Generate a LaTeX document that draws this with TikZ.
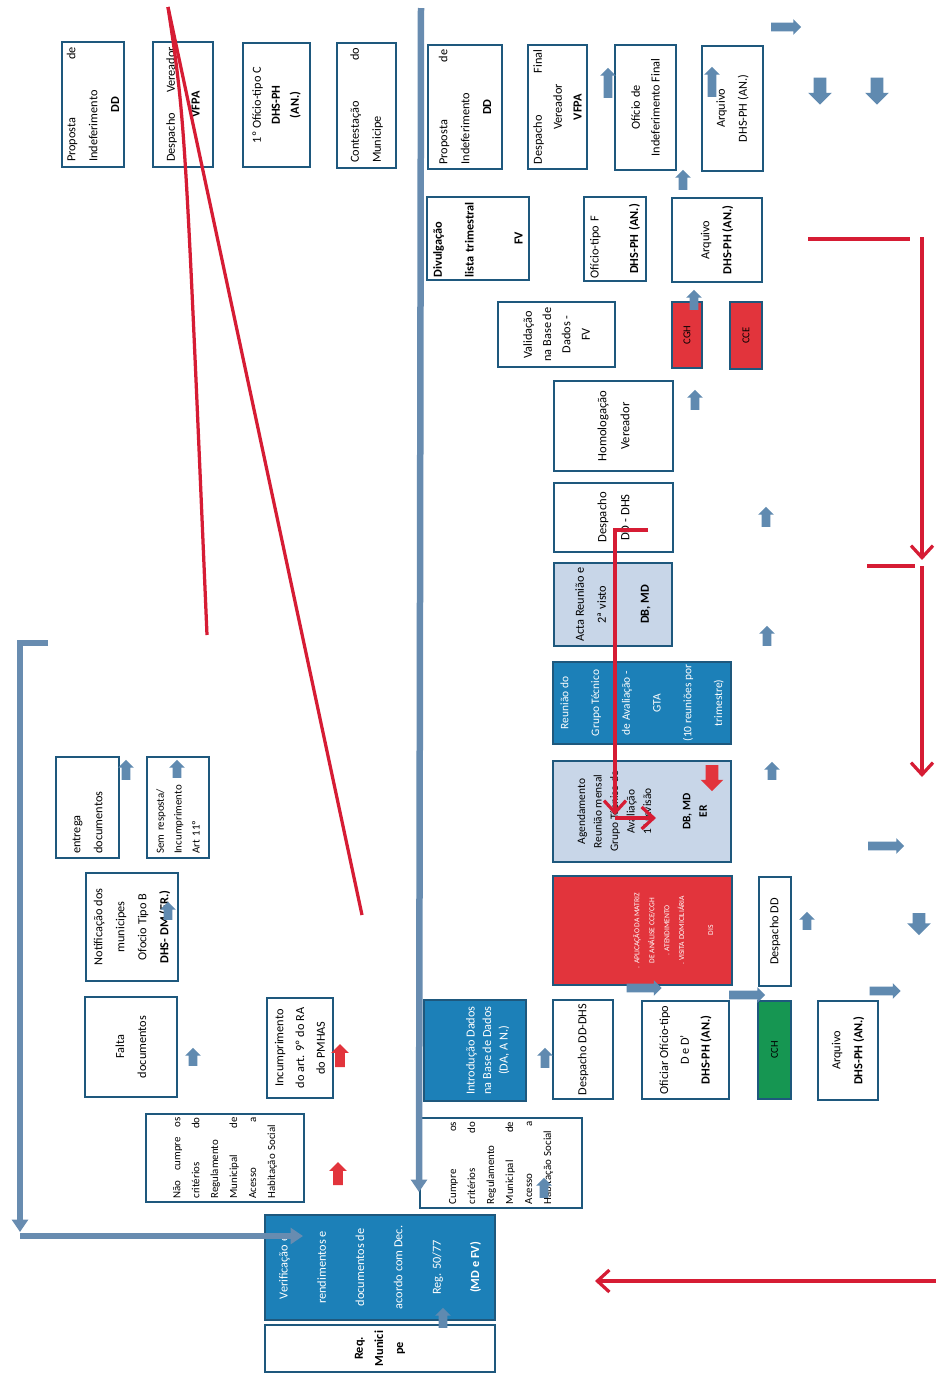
\documentclass[tikz,border=0pt]{standalone}
\usepackage{fontspec}
\setmainfont{Carlito}
\usetikzlibrary{arrows.meta,shapes.arrows}
\definecolor{frameblue}{RGB}{30,88,125}
\definecolor{arrowblue}{RGB}{96,138,176}
\definecolor{trunkblue}{RGB}{104,140,176}
\definecolor{redline}{RGB}{214,28,52}
\definecolor{boxred}{RGB}{226,52,60}
\definecolor{midblue}{RGB}{28,128,184}
\definecolor{paleblue}{RGB}{200,214,232}
\definecolor{cchgreen}{RGB}{22,150,82}
\newcommand{\jl}[2]{#1\hfill#2}

\begin{document}
\begin{tikzpicture}[x=0.02cm,y=-0.02cm,
  box/.style={draw=frameblue,line width=0.05cm,rotate=90,inner sep=1.5pt,align=center,
    font=\fontsize{7}{12.5}\selectfont},
  pale/.style={box,fill=paleblue},
  dark/.style={box,fill=midblue,text=white},
  hot/.style={box,fill=boxred},
  barr/.style={single arrow,fill=arrowblue,inner xsep=0pt,inner ysep=0.08cm,
    single arrow head extend=0.07cm,minimum height=0.6cm,minimum width=0pt},
  bigarr/.style={barr,inner ysep=0.12cm,single arrow head extend=0.11cm,minimum height=0.54cm},
  rarr/.style={barr,fill=boxred,inner ysep=0.09cm,single arrow head extend=0.08cm,minimum height=0.46cm},
  trunk/.style={draw=trunkblue,line width=0.13cm,-{Triangle[length=0.25cm,width=0.32cm]}},
  redrule/.style={draw=redline,line width=0.065cm},
  redarr/.style={redrule,-{Straight Barb[length=0.24cm,width=0.44cm]}}]
\useasboundingbox (0,0) rectangle (936,1373);
\fill[white] (0,0) rectangle (936,1373);

%LEFT TOP
\node[box,minimum width=2.5cm,minimum height=1.24cm,text width=2.3cm] (propa) at (93,104.5)
  {\jl{Proposta}{de}\\ \jl{Indeferimento}{\mbox{}}\\ \textbf{DD}};
\node[box,minimum width=2.5cm,minimum height=1.2cm,text width=2.3cm,font=\fontsize{7}{14}\selectfont] (despa) at (183,104.5)
  {\jl{Despacho}{Vereador}\\ \textbf{VFPA}};
\node[box,minimum width=2.48cm,minimum height=1.34cm,font=\fontsize{7}{10.8}\selectfont] (oficc) at (276.5,105)
  {1º Ofício-tipo C\\ \textbf{DHS-PH}\\ \textbf{(AN.)}};
\node[box,minimum width=2.5cm,minimum height=1.18cm,text width=2.3cm] (contest) at (366.5,105.5)
  {\jl{Contestação}{do}\\ \jl{Municipe}{\mbox{}}};

%RIGHT TOP
\node[box,minimum width=2.48cm,minimum height=1.48cm,text width=2.3cm] (propb) at (465,107)
  {\jl{Proposta}{de}\\ \jl{Indeferimento}{\mbox{}}\\ \textbf{DD}};
\node[box,minimum width=2.48cm,minimum height=1.18cm,text width=2.3cm,font=\fontsize{7}{11.3}\selectfont] (despf) at (557.5,107)
  {\jl{Despacho}{Final}\\ Vereador\\ \textbf{VFPA}};
\node[box,minimum width=2.5cm,minimum height=1.22cm,font=\fontsize{7}{11.3}\selectfont] (oficif) at (645.5,107.5)
  {Ofício de\\ Indeferimento Final};
\node[box,minimum width=2.5cm,minimum height=1.22cm] (arqa) at (732.5,108.5)
  {Arquivo\\ DHS-PH (AN.)};
\node[box,minimum width=1.66cm,minimum height=2.04cm,text width=1.56cm,font=\fontsize{7}{18}\selectfont] (divulg) at (478,238.5)
  {\jl{\textbf{Divulgação}}{\mbox{}}\\ \jl{\textbf{lista trimestral}}{\mbox{}}\\[10pt] \textbf{FV}};
\node[box,minimum width=1.68cm,minimum height=1.24cm,text width=1.58cm] (oficf) at (615,239)
  {\jl{Ofício-tipo F}{\mbox{}}\\[10pt] \textbf{DHS-PH (AN.)}};
\node[box,minimum width=1.68cm,minimum height=1.8cm] (arqb) at (717,240)
  {Arquivo\\ \textbf{DHS-PH (AN.)}};
\node[box,minimum width=1.3cm,minimum height=2.34cm,font=\fontsize{7}{11}\selectfont] (valid) at (556.5,334.5)
  {Validação\\ na Base de\\ Dados -\\ FV};
\node[hot,minimum width=1.32cm,minimum height=0.6cm,font=\fontsize{6}{7}\selectfont] (cgh) at (687,335) {CGH};
\node[hot,minimum width=1.34cm,minimum height=0.64cm,font=\fontsize{6}{7}\selectfont] (cce) at (746,335.5) {CCE};
\node[box,minimum width=1.8cm,minimum height=2.38cm,font=\fontsize{7.2}{13}\selectfont] (homol) at (613.5,426)
  {Homologação\\ Vereador};
\node[box,minimum width=1.38cm,minimum height=2.38cm,font=\fontsize{7.2}{13}\selectfont] (despdhs) at (613.5,517.5)
  {Despacho\\ DD - DHS};
\node[pale,minimum width=1.66cm,minimum height=2.36cm] (acta) at (613,604.5)
  {Acta Reunião e\\ 2ª visto\\[12pt] \textbf{DB, MD}};
\node[dark,minimum width=1.6cm,minimum height=3.56cm,font=\fontsize{6.5}{17.5}\selectfont] (gta) at (642,703)
  {Reunião do\\ Grupo Técnico\\ de Avaliação -\\ GTA\\ (10 reuniões por\\ trimestre)};
\node[pale,minimum width=2.02cm,minimum height=3.56cm,font=\fontsize{6.5}{9.4}\selectfont] (agend) at (642,811.5)
  {Agendamento\\ Reunião mensal\\ Grupo Técnico de\\ Avaliação\\ 1ª revisão\\[13pt] \textbf{DB, MD}\\ \textbf{ER}};
\node[hot,text=white,minimum width=2.18cm,minimum height=3.58cm,font=\fontsize{4.3}{8.5}\selectfont] (aplic) at (642.5,930.5)
  {\mbox{}\\[30pt] . APLICAÇÃO DA MATRIZ\\ DE ANÁLISE CCE/CGH\\ . ATENDIMENTO\\ . VISITA DOMICILIÁRIA\\[8pt] DIS};
\node[box,minimum width=2.18cm,minimum height=0.64cm] (despdd) at (775,931.5) {Despacho DD};

%BOTTOM ROW
\node[dark,minimum width=2.02cm,minimum height=2.04cm,font=\fontsize{7}{9.4}\selectfont] (intro) at (475,1050.5)
  {\mbox{}\\[10pt] Introdução Dados\\ na Base de Dados\\ (DA, A N.)};
\node[box,minimum width=1.98cm,minimum height=1.2cm] (despdddhs) at (583,1049.5) {Despacho DD-DHS};
\node[box,minimum width=1.96cm,minimum height=1.74cm,font=\fontsize{7}{11.8}\selectfont] (oficd) at (685.5,1050)
  {Oficiar Ofício-tipo\\ D e D'\\ \textbf{DHS-PH (AN.)}};
\node[box,fill=cchgreen,minimum width=1.96cm,minimum height=0.66cm,font=\fontsize{6}{7}\selectfont] (cch) at (774.5,1050) {CCH};
\node[box,minimum width=1.98cm,minimum height=1.2cm] (arqc) at (848,1050.5)
  {Arquivo\\ \textbf{DHS-PH (AN.)}};
\node[box,minimum width=1.8cm,minimum height=3.24cm,text width=1.65cm,font=\fontsize{6.2}{10.8}\selectfont] (cumpre) at (501,1163)
  {\jl{Cumpre}{os}\\ \jl{critérios}{do}\\ \jl{Regulamento}{\mbox{}}\\ \jl{Municipal}{de}\\ \jl{Acesso}{a}\\ \jl{Habitação Social}{\mbox{}}};

%LEFT BOTTOM
\node[box,minimum width=2.02cm,minimum height=1.26cm,text width=1.85cm] (entrega) at (87.5,807.5)
  {\jl{entrega}{\mbox{}}\\ \jl{documentos}{\mbox{}}};
\node[box,minimum width=2.02cm,minimum height=1.24cm,text width=1.85cm,font=\fontsize{6.2}{10.2}\selectfont] (semresp) at (178,807.5)
  {\jl{Sem resposta/}{\mbox{}}\\ \jl{Incumprimento}{\mbox{}}\\ \jl{Art 11º}{\mbox{}}};
\node[box,minimum width=2.16cm,minimum height=1.84cm] (notif) at (132,927)
  {Notificação dos\\ municipes\\ Ofocio Tipo B\\ \textbf{DHS- DM (ER.)}};
\node[box,minimum width=2cm,minimum height=1.84cm] (falta) at (131,1047) {Falta\\ documentos};
\node[box,minimum width=2cm,minimum height=1.32cm,font=\fontsize{7}{11.8}\selectfont] (incump) at (300,1048)
  {Incumprimento\\ do art. 9º do RA\\ do PMHAS};
\node[box,minimum width=1.76cm,minimum height=3.16cm,text width=1.62cm,font=\fontsize{6.2}{10.8}\selectfont] (naocumpre) at (225,1158)
  {Não\hfill cumpre\hfill os\\ \jl{critérios}{do}\\ \jl{Regulamento}{\mbox{}}\\ \jl{Municipal}{de}\\ \jl{Acesso}{a}\\ \jl{Habitação Social}{\mbox{}}};
\node[dark,minimum width=2.1cm,minimum height=4.6cm,font=\fontsize{7}{21.8}\selectfont] (verif) at (380,1267.5)
  {Verificação e\\ rendimentos e\\ documentos de\\ acordo com Dec.\\ Reg. 50/77\\ \textbf{(MD e FV)}};
\node[box,minimum width=0.94cm,minimum height=4.6cm,font=\fontsize{7}{11.5}\selectfont\bfseries] (req) at (380,1348.5)
  {Req.\\ Munici\\ pe};

%BLUE ARROWS
\node[barr,rotate=90] (a1) at (608,85) {};
\node[barr,rotate=90] (a2) at (712,84) {};
\node[barr] (a3) at (784,27) {};
\node[bigarr,rotate=-90] (a4) at (820,88) {};
\node[bigarr,rotate=-90] (a5) at (877,88) {};
\node[barr,rotate=90,minimum height=0.4cm] (a6) at (683,182) {};
\node[barr,rotate=90,minimum height=0.4cm] (a7) at (694,302) {};
\node[barr,rotate=90,minimum height=0.4cm] (a8) at (695,402) {};
\node[barr,rotate=90,minimum height=0.4cm] (a9) at (766,519) {};
\node[barr,rotate=90,minimum height=0.4cm] (a10) at (767,638) {};
\node[barr,rotate=90,minimum height=0.36cm] (a11) at (772,773) {};
\node[barr,minimum height=0.72cm] (a12) at (884,846) {};
\node[barr,rotate=90,minimum height=0.36cm] (a13) at (807,923) {};
\node[bigarr,rotate=-90,minimum height=0.44cm] (a14) at (919,921) {};
\node[barr,minimum height=0.7cm] (a15) at (642,988) {};
\node[barr,minimum height=0.72cm] (a16) at (745,995) {};
\node[barr,minimum height=0.62cm] (a17) at (883,991) {};
\node[barr,rotate=90,minimum height=0.4cm] (a18) at (545,1060) {};
\node[barr,rotate=90,minimum height=0.4cm] (a19) at (544,1190) {};
\node[barr,rotate=90,minimum height=0.4cm] (a20) at (443,1320) {};
\node[barr,rotate=90,minimum height=0.36cm] (a21) at (193,1059) {};
\node[barr,rotate=90,minimum height=0.36cm] (a22) at (168,913) {};
\node[barr,rotate=90,minimum height=0.4cm] (a23) at (126,772) {};
\node[barr,rotate=90,minimum height=0.36cm] (a24) at (177,771) {};

%RED ARROWS
\node[rarr,rotate=90] (r1) at (340,1058) {};
\node[rarr,rotate=90] (r2) at (338,1176) {};
\node[rarr,rotate=-90,inner ysep=0.12cm,single arrow head extend=0.1cm,minimum height=0.52cm] (r3) at (712,775) {};

%TRUNK LINES
\coordinate (mtop) at (421,8);
\coordinate (mbot) at (419,1192);
\coordinate (lba) at (48,643);
\coordinate (lbb) at (20,643);
\coordinate (lbc) at (20,1232);
\coordinate (lbd) at (20,1236);
\coordinate (lbe) at (303,1236);
\draw[trunk] (mtop) -- (mbot);
\draw[trunk,line width=0.11cm] (lba) -- (lbb) -- (lbc);
\draw[trunk,line width=0.11cm] (lbd) -- (lbe);

%RED LINES
\coordinate (xtop) at (168,7);
\coordinate (xa) at (207,635);
\coordinate (xb) at (362,915);
\draw[redrule] (xtop) .. controls (185,120) .. (xa);
\draw[redrule] (xtop) -- (xb);
\coordinate (da) at (648,530);
\coordinate (db) at (615,530);
\coordinate (dc) at (615,815);
\coordinate (dd) at (615,818);
\coordinate (de) at (656,818);
\draw[redarr] (da) -- (db) -- (dc);
\draw[redarr] (dd) -- (de);
\coordinate (ra) at (808,239);
\coordinate (rb) at (910,239);
\coordinate (rc) at (922,237);
\coordinate (rd) at (922,560);
\coordinate (re) at (867,566);
\coordinate (rf) at (915,566);
\coordinate (rg) at (922,566);
\coordinate (rh) at (922,777);
\draw[redrule] (ra) -- (rb);
\draw[redarr] (rc) -- (rd);
\draw[redrule] (re) -- (rf);
\draw[redarr] (rg) -- (rh);
\coordinate (ba) at (936,1281);
\coordinate (bb) at (595,1281);
\draw[redarr] (ba) -- (bb);
\end{tikzpicture}
\end{document}
